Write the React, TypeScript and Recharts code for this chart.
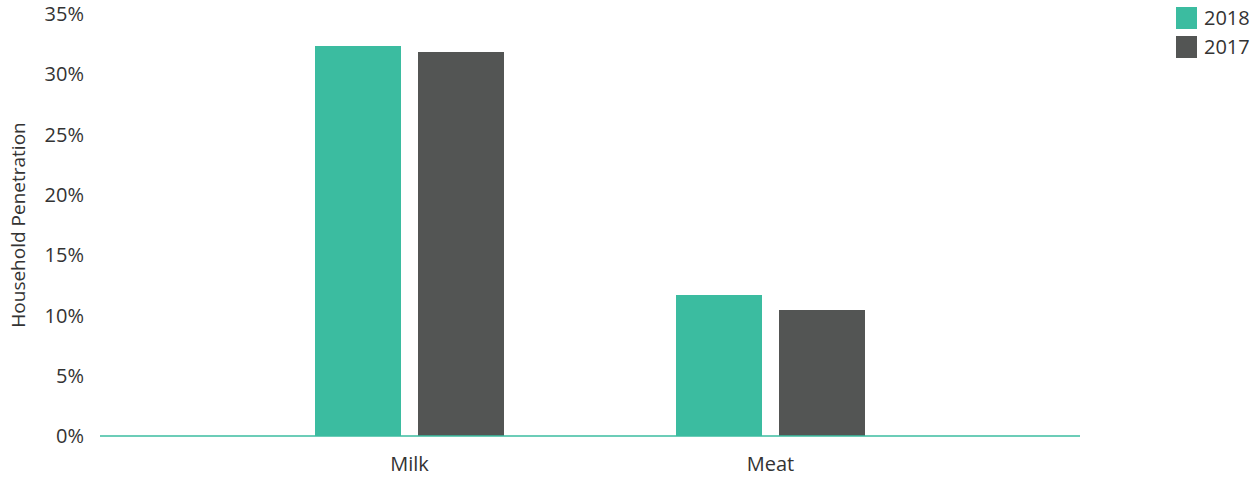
import React from 'react';
import { BarChart, Bar, XAxis, YAxis } from 'recharts';

const categories = ['Milk', 'Meat'];
const values2018 = [32.35, 11.7];
const values2017 = [31.85, 10.45];
const yTicks = [0, 5, 10, 15, 20, 25, 30, 35];
const legendItems = ['2018', '2017'];

const TEAL = '#3bbca0';
const DARK = '#535554';
const TEXT = '#333333';
const FONT = '"Open Sans", Lato, sans-serif';
const seriesColors = [TEAL, DARK];

const data = categories.map((name, i) => ({
  name,
  y2018: values2018[i],
  y2017: values2017[i],
}));

const App: React.FC = () => {
  return (
    <div style={{ position: 'absolute', left: 0, top: 0, width: 1254, height: 478, background: '#fff' }}>
      <BarChart
        width={1254}
        height={478}
        data={data}
        margin={{ top: 14, right: 174, left: 10, bottom: 0 }}
        barGap={17}
        barCategoryGap={86}
      >
        <XAxis
          dataKey="name"
          padding={{ left: 129, right: 129 }}
          height={42}
          tickLine={false}
          axisLine={{ stroke: TEAL, strokeWidth: 1.5 }}
          tick={{ fontSize: 20, fill: TEXT, fontFamily: FONT }}
          tickMargin={15}
        />
        <YAxis
          width={90}
          domain={[0, 35]}
          ticks={yTicks}
          tickFormatter={(v) => `${v}%`}
          axisLine={false}
          tickLine={false}
          tick={{ fontSize: 20, fill: TEXT, fontFamily: FONT }}
          tickMargin={10}
          label={{
            value: 'Household Penetration',
            angle: -90,
            position: 'insideLeft',
            offset: 0,
            dx: 8,
            style: { textAnchor: 'middle', fontSize: 19, fill: TEXT, fontFamily: FONT },
          }}
        />
        <Bar dataKey="y2018" name="2018" fill={TEAL} isAnimationActive={false} />
        <Bar dataKey="y2017" name="2017" fill={DARK} isAnimationActive={false} />
      </BarChart>
      <div style={{ position: 'absolute', left: 1176, top: 3, fontFamily: FONT, fontSize: 20, color: TEXT }}>
        {legendItems.map((label, i) => (
          <div key={label} style={{ display: 'flex', alignItems: 'center', height: 29 }}>
            <span style={{ width: 21, height: 22, background: seriesColors[i], display: 'inline-block', marginRight: 7 }} />
            <span>{label}</span>
          </div>
        ))}
      </div>
    </div>
  );
};

export default App;
